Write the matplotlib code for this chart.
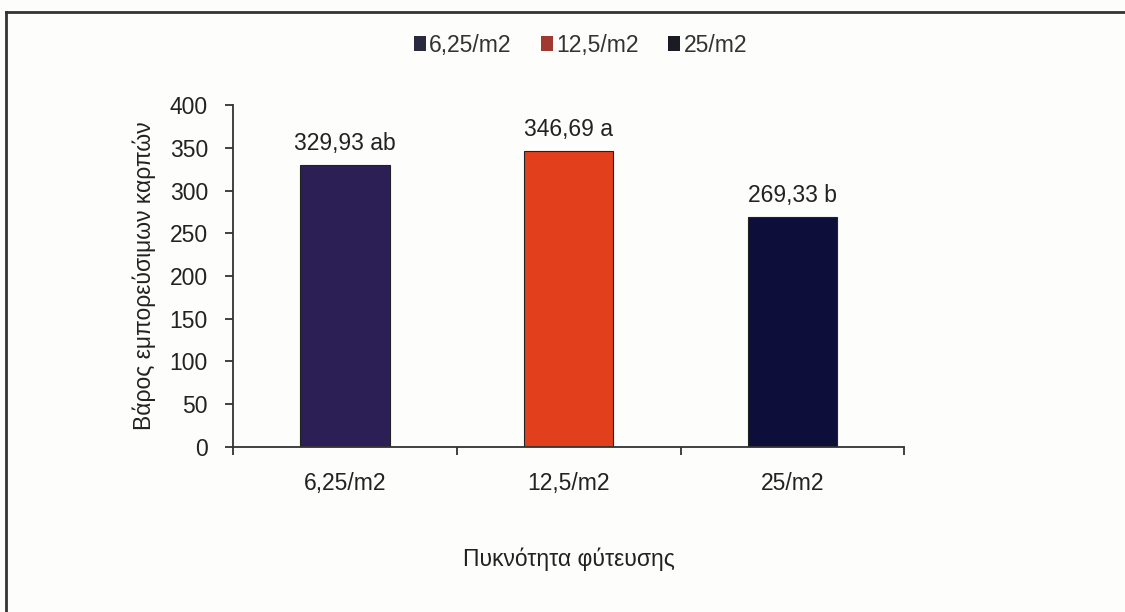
import matplotlib.pyplot as plt
from matplotlib.patches import Patch
from matplotlib.lines import Line2D

plt.rcParams['font.family'] = ['Liberation Sans', 'DejaVu Sans']

categories = ['6,25/m2', '12,5/m2', '25/m2']
weights = [329.93, 346.69, 269.33]
letters = ['ab', 'a', 'b']
bar_colors = ['#2b1f55', '#e2401c', '#0d0f3a']
legend_colors = ['#2a2a3e', '#a03a30', '#1b1b24']

fs = 16.5

fig = plt.figure(figsize=(11.25, 6.12), dpi=100, facecolor='#fdfdfc')
ax = fig.add_axes([0.207, 0.270, 0.597, 0.558])
ax.set_facecolor('#fdfdfc')

x = range(len(categories))
bars = ax.bar(x, weights, width=0.4, color=bar_colors,
              edgecolor='#222222', linewidth=0.8)

# value labels with significance letters
for xi, w, l in zip(x, weights, letters):
    ax.text(xi, w + 12, f'{w:.2f}'.replace('.', ',') + ' ' + l,
            ha='center', va='bottom', fontsize=fs, color='#222222')

ax.set_xlim(-0.5, len(categories) - 0.5)
ax.set_ylim(0, 400)
ax.set_yticks(range(0, 401, 50))
ax.set_xticks([i - 0.5 for i in range(len(categories) + 1)])
ax.set_xticklabels([])
ax.set_xticks(list(x), minor=True)
ax.set_xticklabels(categories, minor=True)

for s in ['top', 'right']:
    ax.spines[s].set_visible(False)
for s in ['left', 'bottom']:
    ax.spines[s].set_color('#333333')
    ax.spines[s].set_linewidth(1.3)

ax.tick_params(axis='y', which='major', length=6, width=1.3, color='#333333',
               labelsize=fs, pad=12, labelcolor='#222222')
ax.tick_params(axis='x', which='major', length=6, width=1.3, color='#333333')
ax.tick_params(axis='x', which='minor', length=0, labelsize=fs, pad=18,
               labelcolor='#222222')

ax.set_ylabel('Βάρος εμπορεύσιμων καρπών', fontsize=fs, color='#222222',
              labelpad=10)
ax.set_xlabel('Πυκνότητα φύτευσης', fontsize=fs, color='#222222', labelpad=38)

handles = [Patch(facecolor=c, edgecolor='none') for c in legend_colors]
fig.legend(handles, categories, loc='center', bbox_to_anchor=(0.516, 0.926),
           ncol=3, frameon=False, fontsize=fs, handlelength=0.5,
           handleheight=0.6, handletextpad=0.15, columnspacing=1.3,
           labelcolor='#333333')

# outer frame lines (left and top)
fig.add_artist(Line2D([0.005, 0.005], [0.0, 0.980], color='#333333', lw=2))
fig.add_artist(Line2D([0.005, 1.0], [0.980, 0.980], color='#333333', lw=2))

fig.savefig('out.png', dpi=100, facecolor=fig.get_facecolor())
